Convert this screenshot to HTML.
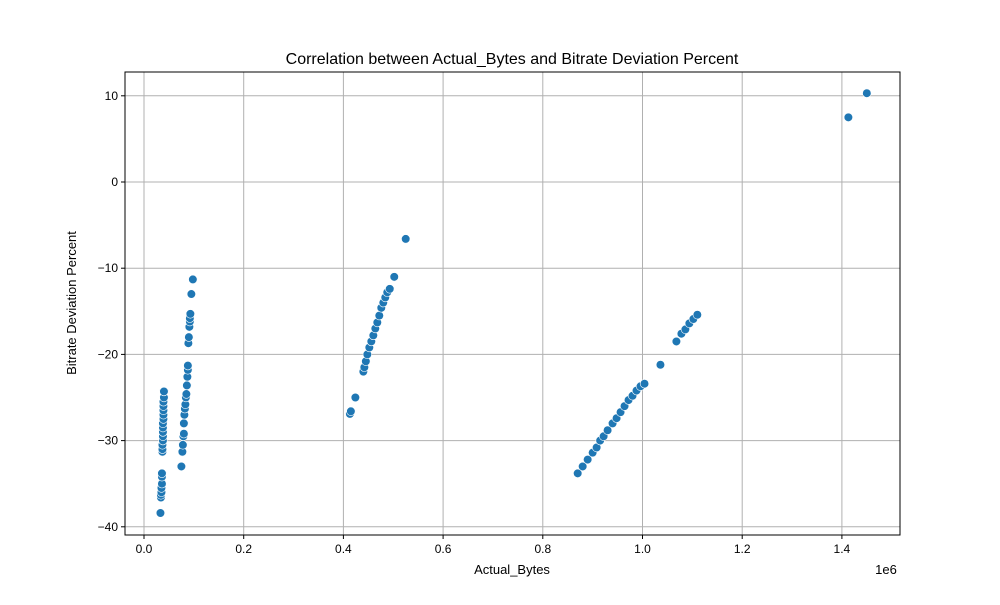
<!DOCTYPE html>
<html><head><meta charset="utf-8"><style>
body{margin:0;background:#fff;font-family:"Liberation Sans",sans-serif}
</style></head><body>
<svg id="chart" width="1000" height="600" xmlns="http://www.w3.org/2000/svg" font-family="Liberation Sans, sans-serif"></svg>
<script>
const xTicks=[0,0.2,0.4,0.6,0.8,1.0,1.2,1.4];
const xTickLabels=["0.0","0.2","0.4","0.6","0.8","1.0","1.2","1.4"];
const yTicks=[-40,-30,-20,-10,0,10];
const bytesX=[33000,34000,34000,35000,35000,36000,36000,36000,37000,37000,37000,38000,38000,38000,38000,38000,39000,39000,39000,39000,39000,40000,40000,
75000,77000,78000,79000,80000,80000,81000,82000,83000,84000,85000,86000,87000,88000,88000,89000,90000,91000,92000,92000,93000,95000,98000,
413000,415000,424000,440000,442000,445000,448000,452000,456000,460000,464000,468000,472000,476000,480000,484000,488000,493000,502000,525000,
870000,880000,890000,900000,908000,915000,922000,930000,940000,948000,956000,964000,972000,980000,988000,996000,1004000,
1036000,1068000,1078000,1086000,1094000,1102000,1110000,1413000,1450000];
const deviationY=[-38.4,-36.6,-36.3,-36,-35.5,-35,-34.2,-33.8,-31.3,-31,-30.5,-30,-29.5,-29,-28.5,-28,-27.5,-27,-26.5,-26,-25.5,-25,-24.3,
-33,-31.3,-30.5,-29.5,-29.2,-28,-27,-26.3,-25.8,-25,-24.6,-23.6,-22.6,-21.8,-21.3,-18.7,-18,-16.8,-16.2,-15.8,-15.3,-13,-11.3,
-26.9,-26.6,-25,-22,-21.5,-20.8,-20,-19.2,-18.5,-17.8,-17,-16.3,-15.5,-14.6,-14,-13.4,-12.8,-12.4,-11,-6.6,
-33.8,-33,-32.2,-31.4,-30.8,-30,-29.5,-28.8,-28,-27.4,-26.7,-26,-25.3,-24.8,-24.2,-23.7,-23.4,
-21.2,-18.5,-17.6,-17.1,-16.4,-15.9,-15.4,7.5,10.3];
const L=125,R=900,T=72,B=535;
const X=v=>144+v/1e6*498.5;
const Y=v=>182-v*8.62;
const svg=document.getElementById('chart');
const NS='http://www.w3.org/2000/svg';
function mk(tag,attrs,parent){const e=document.createElementNS(NS,tag);for(const k in attrs)e.setAttribute(k,attrs[k]);(parent||svg).appendChild(e);return e;}
const grid=mk('g',{});


xTicks.forEach((t,i)=>{const x=X(t*1e6);
 mk('line',{x1:x,x2:x,y1:T,y2:B,stroke:'#b0b0b0','stroke-width':1},grid);
 mk('line',{x1:x,x2:x,y1:B,y2:B+4,stroke:'#000'});
 const tx=mk('text',{x:x,y:B+18,'text-anchor':'middle','font-size':12});tx.textContent=xTickLabels[i];
 
 
});
yTicks.forEach(t=>{const y=Y(t);
 mk('line',{x1:L,x2:R,y1:y,y2:y,stroke:'#b0b0b0','stroke-width':1},grid);
 mk('line',{x1:L-4,x2:L,y1:y,y2:y,stroke:'#000'});
 const tx=mk('text',{x:L-7,y:y+4,'text-anchor':'end','font-size':12});tx.textContent=String(t).replace('-','\u2212');
 
 
});
const pts=mk('g',{});


const n=Math.min(bytesX.length,deviationY.length);
for(let i=0;i<n;i++){const c=mk('circle',{cx:X(bytesX[i]),cy:Y(deviationY[i]),r:4.3,fill:'#1f77b4',stroke:'#fff','stroke-width':0.6},pts);
 
 
}
const fr=mk('rect',{x:L,y:T,width:R-L,height:B-T,fill:'none',stroke:'#000','stroke-width':1});


let t=mk('text',{x:512,y:64,'text-anchor':'middle','font-size':16});t.textContent='Correlation between Actual_Bytes and Bitrate Deviation Percent';

t=mk('text',{x:512,y:574,'text-anchor':'middle','font-size':13});t.textContent='Actual_Bytes';

t=mk('text',{x:886,y:574,'font-size':13,'text-anchor':'middle'});t.textContent='1e6';

t=mk('text',{x:76,y:303,'text-anchor':'middle','font-size':13,transform:'rotate(-90 76 303)'});t.textContent='Bitrate Deviation Percent';

</script>
</body></html>
